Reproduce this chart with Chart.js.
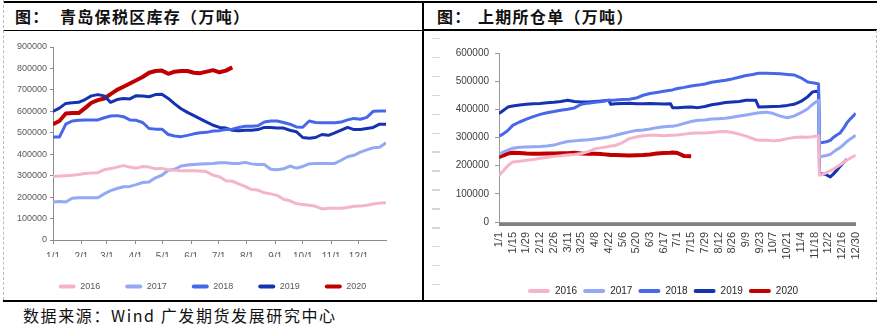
<!DOCTYPE html>
<html>
<head>
<meta charset="utf-8">
<script src="https://cdn.jsdelivr.net/npm/chart.js@4.4.1/dist/chart.umd.min.js"></script>
<style>
  body { margin: 0; background: #fff; width: 883px; height: 328px; position: relative; overflow: hidden;
         font-family: "Noto Sans CJK SC", sans-serif; }
  .rule { position: absolute; background: #000; z-index: 2; }
  .dash-v { position: absolute; width: 0; border-left: 1px dashed #bbb; z-index: 2; }
  .title { position: absolute; top: 6px; font-size: 16px; line-height: 20px; font-weight: bold; letter-spacing: 1.3px; color: #111; }
  .source { position: absolute; left: 23px; top: 304px; font-size: 16px; line-height: 22px; letter-spacing: 1.6px; color: #111; }
  .stubs { position: absolute; left: 432px; top: 38px; width: 8px; height: 250px;
           background: repeating-linear-gradient(to bottom, #d6d6d6 0 1.5px, transparent 1.5px 18.9px); }
  canvas { position: absolute; }
  #bondedChart { left: 5px; top: 32px; }
  #warrantChart { left: 451px; top: 32px; }
</style>
</head>
<body>
<div class="rule" style="left:3px; top:1px; width:874px; height:2px;"></div>
<div class="rule" style="left:3px; top:30px; width:420px; height:1px;"></div>
<div class="rule" style="left:423px; top:29px; width:454px; height:2px;"></div>
<div class="rule" style="left:422px; top:2px; width:2px; height:299px;"></div>
<div class="rule" style="left:3px; top:300px; width:874px; height:2px;"></div>
<div class="dash-v" style="left:3px; top:0; height:300px;"></div>
<div class="dash-v" style="left:876px; top:30px; height:270px;"></div>
<div class="stubs"></div>

<div class="title" style="left:15px">图：</div>
<div class="title" style="left:60px">青岛保税区库存（万吨）</div>
<div class="title" style="left:437px">图：</div>
<div class="title" style="left:478px">上期所仓单（万吨）</div>

<canvas id="bondedChart" width="415" height="269"></canvas>
<canvas id="warrantChart" width="424" height="274"></canvas>

<div class="source">数据来源：Wind 广发期货发展研究中心</div>

<script>
// 青岛保税区库存: weekly readings, x = day of year
const weekDays = [0, 7, 14, 21, 28, 35, 42, 49, 56, 63, 70, 77, 84, 91, 98, 105, 112, 119, 126, 133,
  140, 147, 154, 161, 168, 175, 182, 189, 196, 203, 210, 217, 224, 231, 238, 245, 252, 259, 266, 273,
  280, 287, 294, 301, 308, 315, 322, 329, 336, 343, 350, 357, 364];
const monthStarts = [0, 31, 59, 90, 120, 151, 181, 212, 243, 273, 304, 334];
const monthLabels = ['1/1', '2/1', '3/1', '4/1', '5/1', '6/1', '7/1', '8/1', '9/1', '10/1', '11/1', '12/1'];

const bonded2016 = [297000, 298000, 300000, 302000, 305000, 310000, 312000, 314000, 328000, 333000,
  340000, 347000, 340000, 335000, 343000, 340000, 332000, 334000, 328000, 325000,
  323000, 323000, 323000, 322000, 318000, 302000, 295000, 276000, 274000, 262000,
  250000, 235000, 233000, 220000, 215000, 208000, 190000, 183000, 170000, 165000,
  162000, 157000, 145000, 148000, 148000, 148000, 152000, 157000, 158000, 162000, 168000, 172000, 174000];
const bonded2017 = [177000, 180000, 177000, 195000, 197000, 197000, 197000, 197000, 215000, 230000,
  240000, 248000, 250000, 258000, 268000, 271000, 290000, 302000, 325000, 330000,
  345000, 350000, 352000, 354000, 356000, 357000, 360000, 360000, 357000, 357000,
  362000, 355000, 352000, 352000, 330000, 328000, 332000, 345000, 335000, 343000,
  355000, 357000, 357000, 357000, 357000, 372000, 388000, 395000, 410000, 420000, 430000, 433000, 453000];
const bonded2018 = [480000, 480000, 540000, 555000, 558000, 560000, 560000, 560000, 570000, 578000,
  580000, 575000, 560000, 558000, 548000, 520000, 517000, 517000, 492000, 485000,
  482000, 488000, 495000, 500000, 502000, 508000, 510000, 515000, 517000, 525000,
  530000, 530000, 533000, 550000, 555000, 555000, 548000, 540000, 527000, 526000,
  555000, 548000, 547000, 547000, 547000, 550000, 560000, 567000, 563000, 572000, 600000, 601000, 601000];
const bonded2019 = [600000, 615000, 637000, 640000, 642000, 655000, 672000, 678000, 672000, 642000,
  655000, 660000, 658000, 673000, 672000, 668000, 678000, 680000, 660000, 635000,
  612000, 595000, 580000, 565000, 550000, 535000, 525000, 522000, 512000, 510000,
  512000, 512000, 515000, 525000, 525000, 522000, 522000, 512000, 505000, 478000,
  475000, 478000, 492000, 488000, 500000, 512000, 525000, 515000, 515000, 520000, 525000, 540000, 540000];
const bonded2020 = [540000, 555000, 590000, 592000, 592000, 615000, 640000, 652000, 660000, 680000,
  700000, 715000, 730000, 745000, 760000, 780000, 788000, 790000, 775000, 785000,
  788000, 788000, 780000, 778000, 785000, 792000, 782000, 790000, 805000];

// 上期所仓单: sampled days (0 = 1/1), ticks every day, label every 14 days
const warrantDays = [0, 4, 9, 14, 21, 28, 35, 42, 49, 56, 63, 70, 77, 84, 91, 98, 105, 112, 114, 119,
  126, 133, 140, 147, 154, 161, 168, 175, 177, 182, 189, 196, 203, 210, 217, 224, 231, 238, 245, 252,
  259, 262, 265, 273, 280, 287, 294, 301, 308, 315, 320, 324, 326, 327, 331, 334, 338, 341, 345, 348,
  352, 355, 359, 364];
const warrantTickLabels = ['1/1', '1/15', '1/29', '2/12', '2/26', '3/11', '3/25', '4/8', '4/22', '5/6',
  '5/20', '6/3', '6/17', '7/1', '7/15', '7/29', '8/12', '8/26', '9/9', '9/23', '10/7', '10/21', '11/4',
  '11/18', '12/2', '12/16', '12/30'];

const warrant2016 = [165000, 180000, 200000, 213000, 216000, 219000, 222000, 226000, 229000, 233000,
  235000, 238000, 240000, 243000, 250000, 260000, 264000, 268000, 270000, 272000,
  282000, 296000, 302000, 306000, 308000, 308000, 306000, 308000, 308000, 309000,
  312000, 315000, 316000, 316000, 318000, 320000, 321000, 318000, 312000, 305000,
  296000, 292000, 290000, 290000, 288000, 290000, 296000, 300000, 302000, 301000,
  303000, 305000, 305000, 166000, 170000, 175000, 182000, 188000, 196000, 203000,
  212000, 220000, 228000, 237000];
const warrant2017 = [240000, 248000, 255000, 262000, 265000, 266000, 267000, 268000, 270000, 273000,
  280000, 286000, 288000, 290000, 292000, 295000, 298000, 302000, 304000, 308000,
  314000, 320000, 325000, 327000, 330000, 335000, 338000, 340000, 340000, 343000,
  350000, 357000, 361000, 362000, 366000, 367000, 368000, 372000, 376000, 380000,
  384000, 386000, 388000, 390000, 385000, 376000, 370000, 376000, 388000, 402000,
  418000, 428000, 432000, 231000, 234000, 236000, 240000, 248000, 258000, 264000,
  276000, 286000, 296000, 308000];
const warrant2018 = [305000, 312000, 325000, 343000, 355000, 365000, 374000, 382000, 388000, 392000,
  397000, 400000, 405000, 418000, 422000, 425000, 428000, 432000, 432000, 433000,
  435000, 436000, 440000, 450000, 456000, 460000, 464000, 468000, 469000, 474000,
  478000, 483000, 486000, 490000, 496000, 500000, 503000, 508000, 514000, 520000,
  524000, 526000, 528000, 528000, 527000, 526000, 524000, 522000, 512000, 497000,
  494000, 492000, 490000, 280000, 283000, 285000, 290000, 300000, 310000, 316000,
  335000, 352000, 368000, 386000];
const warrant2019 = [385000, 395000, 408000, 412000, 415000, 418000, 420000, 421000, 423000, 425000,
  428000, 432000, 428000, 426000, 426000, 428000, 430000, 432000, 418000, 420000,
  421000, 422000, 420000, 420000, 421000, 420000, 419000, 420000, 406000, 406000,
  407000, 408000, 406000, 410000, 416000, 420000, 424000, 426000, 428000, 432000,
  432000, 432000, 408000, 409000, 410000, 411000, 414000, 418000, 428000, 445000,
  462000, 464000, 462000, 172000, 170000, 168000, 160000, 170000, 185000, 198000,
  212000, 223000, null, null];
const warrant2020 = [230000, 236000, 243000, 246000, 245000, 243000, 242000, 242000, 243000, 243000,
  244000, 244000, 246000, 243000, 242000, 242000, 241000, 239000, 238000, 238000,
  237000, 236000, 237000, 238000, 240000, 243000, 245000, 246000, 247000, 245000,
  234000, 233000];

const yearLabels = ['2016', '2017', '2018', '2019', '2020'];
const yearColors = ['#F5B5C8', '#93A9F4', '#4767EA', '#1533B0', '#C00000'];

const axisFont = "'Liberation Sans', Arial, sans-serif";

const toPoints = (days, values) => days.slice(0, values.length).map((d, i) => ({ x: d, y: values[i] }));

const buildDatasets = (days, seriesList, widths) => seriesList.map((values, i) => ({
  label: yearLabels[i],
  data: toPoints(days, values),
  borderColor: yearColors[i],
  backgroundColor: yearColors[i],
  borderWidth: widths[i],
  borderJoinStyle: 'round',
  pointRadius: 0,
  tension: 0,
}));

// legend swatches: flat rounded bars, no outline
const legendItems = chart => Chart.defaults.plugins.legend.labels.generateLabels(chart)
  .map(item => ({ ...item, lineWidth: 0, borderRadius: 2 }));

// nudge the legend row sideways after layout (the y axis eats the left side)
const legendShift = {
  id: 'legendShift',
  afterLayout(chart, args, opts) {
    if (!chart.legend) return;
    chart.legend.left += opts.dx || 0;
    chart.legend.right += opts.dx || 0;
  },
};

const plainNumber = v => String(v);

new Chart(document.getElementById('bondedChart'), {
  type: 'line',
  data: {
    datasets: buildDatasets(weekDays, [bonded2016, bonded2017, bonded2018, bonded2019, bonded2020], [3, 3, 3, 3, 4]),
  },
  plugins: [legendShift],
  options: {
    responsive: false,
    animation: false,
    layout: { padding: { left: 0, top: 15, right: 34, bottom: 0 } },
    plugins: {
      tooltip: { enabled: false },
      legendShift: { dx: 17 },
      legend: {
        position: 'bottom',
        labels: {
          boxWidth: 17, boxHeight: 4, padding: 25, color: '#595959',
          font: { family: axisFont, size: 9 },
          useBorderRadius: true,
          generateLabels: legendItems,
        },
      },
    },
    scales: {
      x: {
        type: 'linear', min: 0, max: 364,
        afterFit: s => { s.height = 17; },
        afterBuildTicks: s => { s.ticks = monthStarts.map(v => ({ value: v })); },
        ticks: {
          autoSkip: false, maxRotation: 0, padding: 7, color: '#595959',
          font: { family: axisFont, size: 10 },
          callback: (v, i) => monthLabels[i],
        },
        grid: { drawOnChartArea: false, tickLength: 4, color: '#8c8c8c' },
        border: { color: '#8c8c8c' },
      },
      y: {
        min: 0, max: 900000,
        afterFit: s => { s.width = 48; },
        ticks: { stepSize: 100000, padding: 3, color: '#595959', font: { family: axisFont, size: 9 }, callback: plainNumber },
        grid: { drawOnChartArea: false, tickLength: 3, color: '#8c8c8c' },
        border: { color: '#8c8c8c' },
      },
    },
  },
});

new Chart(document.getElementById('warrantChart'), {
  type: 'line',
  data: {
    datasets: buildDatasets(warrantDays, [warrant2016, warrant2017, warrant2018, warrant2019, warrant2020], [3, 3, 3, 3, 4]),
  },
  plugins: [legendShift],
  options: {
    responsive: false,
    animation: false,
    layout: { padding: { left: 0, top: 21, right: 18, bottom: 0 } },
    plugins: {
      tooltip: { enabled: false },
      legendShift: { dx: 9 },
      legend: {
        position: 'bottom',
        labels: {
          boxWidth: 22, boxHeight: 4, padding: 6, color: '#262626',
          font: { family: axisFont, size: 10 },
          useBorderRadius: true,
          generateLabels: legendItems,
        },
      },
    },
    scales: {
      x: {
        type: 'linear', min: 0, max: 364,
        afterFit: s => { s.height = 58; },
        afterBuildTicks: s => { s.ticks = Array.from({ length: 365 }, (_, d) => ({ value: d })); },
        ticks: {
          autoSkip: false, minRotation: 90, maxRotation: 90, padding: 6, color: '#404040',
          font: { family: axisFont, size: 11 },
          callback: v => (v % 14 === 0 ? warrantTickLabels[v / 14] : ''),
        },
        grid: { drawOnChartArea: false, tickLength: 4, color: '#808080' },
        border: { color: '#9a9a9a' },
      },
      y: {
        min: 0, max: 600000,
        afterFit: s => { s.width = 48; },
        ticks: { stepSize: 100000, padding: 6, color: '#404040', font: { family: axisFont, size: 10 }, callback: plainNumber },
        grid: { drawOnChartArea: false, tickLength: 4, color: '#9a9a9a' },
        border: { color: '#9a9a9a' },
      },
    },
  },
});
</script>
</body>
</html>
